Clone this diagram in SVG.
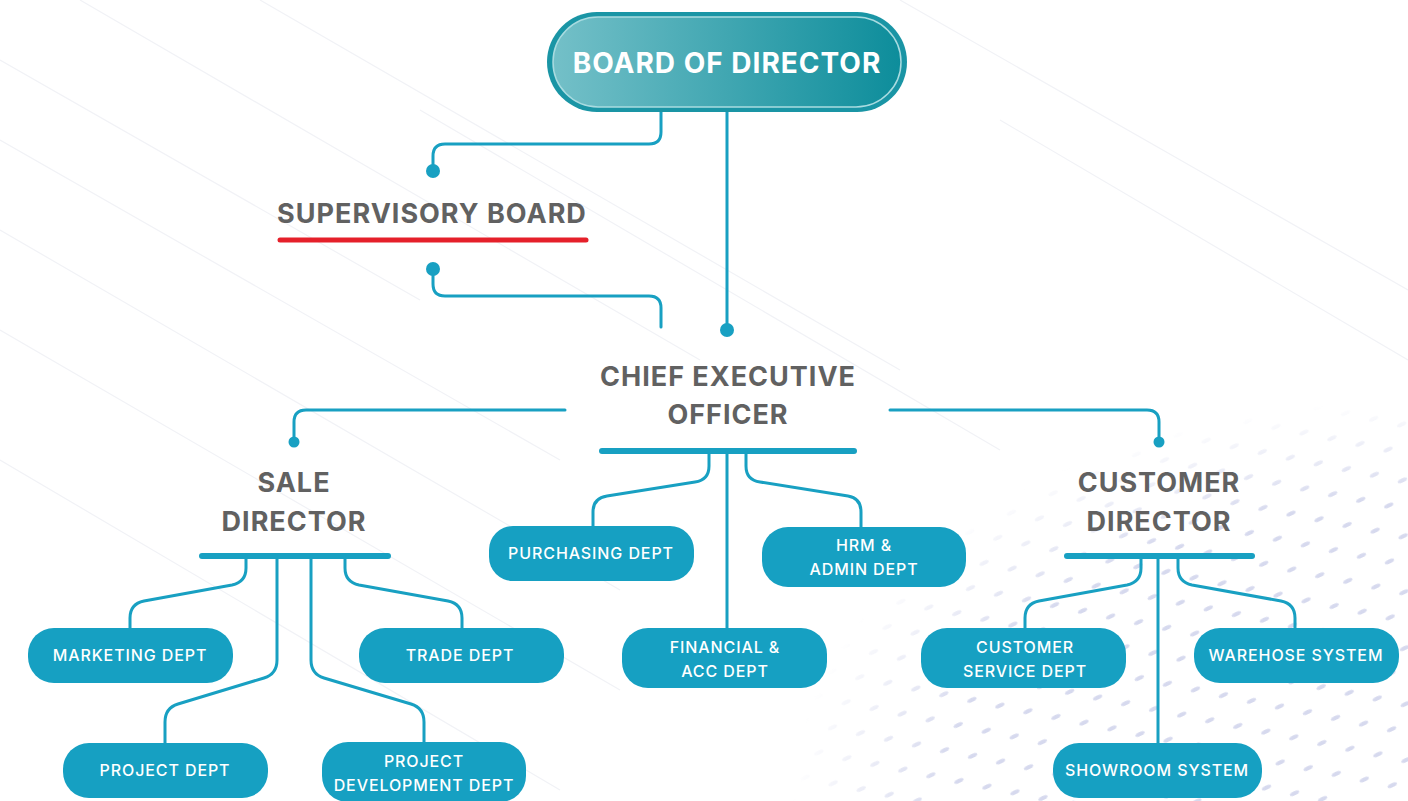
<svg xmlns="http://www.w3.org/2000/svg" width="1408" height="801" viewBox="0 0 1408 801">
<defs>
<style>
.ln{fill:none;stroke:#18a0c2;stroke-width:3;stroke-linecap:round;stroke-linejoin:round}
.bar{stroke:#18a0c2;stroke-width:6;stroke-linecap:round}
.dot{fill:#18a0c2}
.box{fill:#16a0c2}
.bt{font-family:Inter,"Open Sans",sans-serif;font-weight:500;font-size:16px;letter-spacing:0.9px;fill:#ffffff;text-anchor:middle}
.ht{font-family:Inter,"Liberation Sans",sans-serif;font-weight:700;font-size:27px;letter-spacing:1px;fill:#616161;text-anchor:middle}
.bg{stroke:#f1f2f6;stroke-width:1.2}
</style>
<linearGradient id="bod" x1="0" y1="0" x2="1" y2="0">
<stop offset="0" stop-color="#74c0c8"/>
<stop offset="1" stop-color="#0d8d9b"/>
</linearGradient>
<pattern id="dash" width="46" height="34" patternUnits="userSpaceOnUse" patternTransform="rotate(-25)">
<ellipse cx="10" cy="8" rx="5" ry="2" fill="#d6d9ee"/>
<ellipse cx="33" cy="25" rx="5" ry="2" fill="#d6d9ee"/>
</pattern>
<radialGradient id="fade" cx="1" cy="1" r="0.95">
<stop offset="0" stop-color="#fff" stop-opacity="1"/>
<stop offset="0.75" stop-color="#fff" stop-opacity="1"/>
<stop offset="1" stop-color="#fff" stop-opacity="0"/>
</radialGradient>
<mask id="m1"><rect x="760" y="380" width="648" height="421" fill="url(#fade)"/></mask>
</defs>
<rect width="1408" height="801" fill="#ffffff"/>
<g id="background">
<line class="bg" x1="0" y1="60" x2="420" y2="300"/>
<line class="bg" x1="0" y1="140" x2="560" y2="460"/>
<line class="bg" x1="0" y1="230" x2="620" y2="590"/>
<line class="bg" x1="0" y1="330" x2="620" y2="690"/>
<line class="bg" x1="80" y1="0" x2="700" y2="360"/>
<line class="bg" x1="260" y1="0" x2="900" y2="370"/>
<line class="bg" x1="420" y1="110" x2="1000" y2="450"/>
<line class="bg" x1="900" y1="0" x2="1408" y2="290"/>
<line class="bg" x1="1000" y1="120" x2="1408" y2="360"/>
<line class="bg" x1="0" y1="460" x2="560" y2="790"/>
<rect x="760" y="380" width="648" height="421" fill="url(#dash)" mask="url(#m1)"/>
</g>
<g id="connectors">
<path class="ln" d="M661,112 V132 Q661,144 649,144 H445 Q433,144 433,156 V171"/>
<line class="ln" x1="727" y1="112" x2="727" y2="330"/>
<path class="ln" d="M433,269 V284 Q433,296 445,296 H649 Q661,296 661,308 V327"/>
<path class="ln" d="M565,410 H306 Q294,410 294,422 V442"/>
<path class="ln" d="M890,410 H1147 Q1159,410 1159,422 V442"/>
<line class="bar" x1="602" y1="451" x2="854" y2="451"/>
<path class="ln" d="M709,451 V466 Q709,480 695,482 L607,496 Q593,498 593,512 V526"/>
<line class="ln" x1="727" y1="451" x2="727" y2="628"/>
<path class="ln" d="M746,451 V466 Q746,480 760,482 L848,496 Q861,498 861,512 V527"/>
<line class="bar" x1="202" y1="556" x2="388" y2="556"/>
<path class="ln" d="M246,556 V568 Q246,582 232,585 L144,601 Q130,604 130,618 V628"/>
<path class="ln" d="M277,556 V660 Q277,674 264,678 L178,704 Q165,708 165,722 V743"/>
<path class="ln" d="M311,556 V660 Q311,674 324,678 L411,704 Q424,708 424,722 V742"/>
<path class="ln" d="M345,556 V568 Q345,582 359,585 L448,601 Q462,604 462,618 V628"/>
<line class="bar" x1="1067" y1="556" x2="1252" y2="556"/>
<path class="ln" d="M1141,556 V568 Q1141,582 1127,585 L1039,601 Q1025,604 1025,618 V628"/>
<line class="ln" x1="1158" y1="556" x2="1158" y2="743"/>
<path class="ln" d="M1178,556 V568 Q1178,582 1192,585 L1281,601 Q1295,604 1295,618 V628"/>
<circle class="dot" cx="433" cy="171" r="7"/>
<circle class="dot" cx="727" cy="330" r="7"/>
<circle class="dot" cx="433" cy="269" r="7"/>
<circle class="dot" cx="294" cy="442" r="5.5"/>
<circle class="dot" cx="1159" cy="442" r="5.5"/>
</g>
<g id="board">
<rect x="547" y="12" width="360" height="100" rx="50" fill="#1a95a5"/>
<rect x="553" y="17" width="348" height="90" rx="45" fill="url(#bod)" stroke="#a9dbe0" stroke-width="1.5"/>
<text x="727" y="73" font-family="Inter,'Liberation Sans',sans-serif" font-weight="700" font-size="28" letter-spacing="1" fill="#ffffff" text-anchor="middle">BOARD OF DIRECTOR</text>
</g>
<g id="supervisory">
<text class="ht" x="432" y="223">SUPERVISORY BOARD</text>
<line x1="280" y1="240" x2="586" y2="240" stroke="#e5202a" stroke-width="5" stroke-linecap="round"/>
</g>
<g id="ceo">
<text class="ht" x="728" y="386">CHIEF EXECUTIVE</text>
<text class="ht" x="728" y="424">OFFICER</text>
</g>
<g id="sale">
<text class="ht" x="294" y="492">SALE</text>
<text class="ht" x="294" y="531">DIRECTOR</text>
</g>
<g id="customer">
<text class="ht" x="1159" y="492">CUSTOMER</text>
<text class="ht" x="1159" y="531">DIRECTOR</text>
</g>
<g id="purchasing"><rect class="box" x="489" y="526" width="205" height="55" rx="24"/><text class="bt" x="591" y="559">PURCHASING DEPT</text></g>
<g id="hrm"><rect class="box" x="762" y="527" width="204" height="60" rx="26"/><text class="bt" x="864" y="551">HRM &amp;</text><text class="bt" x="864" y="575">ADMIN DEPT</text></g>
<g id="financial"><rect class="box" x="622" y="628" width="205" height="60" rx="26"/><text class="bt" x="725" y="653">FINANCIAL &amp;</text><text class="bt" x="725" y="677">ACC DEPT</text></g>
<g id="marketing"><rect class="box" x="28" y="628" width="205" height="55" rx="26"/><text class="bt" x="130" y="661">MARKETING DEPT</text></g>
<g id="trade"><rect class="box" x="359" y="628" width="205" height="55" rx="26"/><text class="bt" x="460" y="661">TRADE DEPT</text></g>
<g id="project"><rect class="box" x="63" y="743" width="205" height="55" rx="26"/><text class="bt" x="165" y="776">PROJECT DEPT</text></g>
<g id="projectdev"><rect class="box" x="322" y="742" width="204" height="60" rx="26"/><text class="bt" x="424" y="767">PROJECT</text><text class="bt" x="424" y="791">DEVELOPMENT DEPT</text></g>
<g id="custservice"><rect class="box" x="921" y="628" width="205" height="60" rx="26"/><text class="bt" x="1025" y="653">CUSTOMER</text><text class="bt" x="1025" y="677">SERVICE DEPT</text></g>
<g id="warehouse"><rect class="box" x="1194" y="628" width="205" height="55" rx="26"/><text class="bt" x="1296" y="661">WAREHOSE SYSTEM</text></g>
<g id="showroom"><rect class="box" x="1053" y="743" width="209" height="55" rx="26"/><text class="bt" x="1157" y="776">SHOWROOM SYSTEM</text></g>
</svg>
